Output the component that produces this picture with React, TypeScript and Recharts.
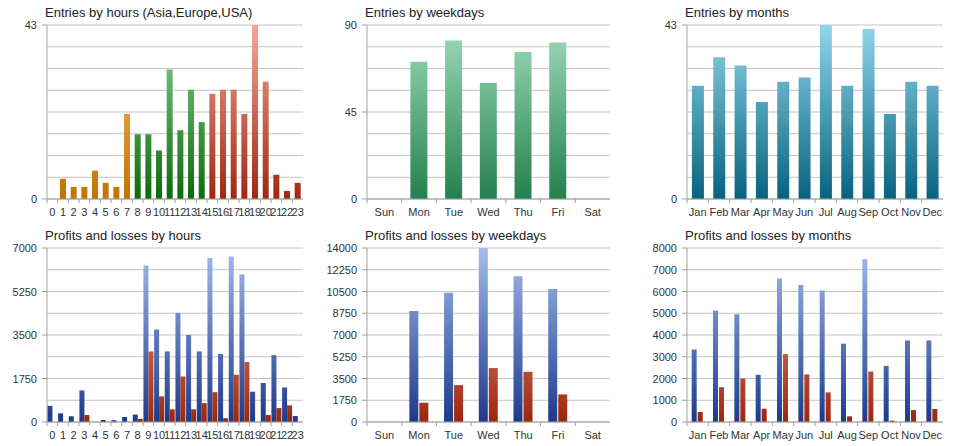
import React from 'react';
import { BarChart, Bar, XAxis, YAxis, CartesianGrid, Cell } from 'recharts';

const hours = ['0', '1', '2', '3', '4', '5', '6', '7', '8', '9', '10', '11', '12', '13', '14', '15', '16', '17', '18', '19', '20', '21', '22', '23'];
const hourSessions = [
  'asia', 'asia', 'asia', 'asia', 'asia', 'asia', 'asia', 'asia',
  'europe', 'europe', 'europe', 'europe', 'europe', 'europe', 'europe',
  'usa', 'usa', 'usa', 'usa', 'usa', 'usa', 'usa', 'usa', 'usa',
];
const hourEntries = [0, 5, 3, 3, 7, 4, 3, 21, 16, 16, 12, 32, 17, 27, 19, 26, 27, 27, 21, 43, 29, 6, 2, 4];
const hourProfits = [650, 350, 230, 1270, 0, 80, 70, 200, 300, 6300, 3720, 2840, 4390, 3500, 2840, 6600, 2740, 6660, 5930, 1220, 1570, 2690, 1390, 240];
const hourLosses = [0, 0, 0, 280, 0, 0, 0, 0, 120, 2840, 1030, 510, 1830, 510, 760, 1200, 150, 1900, 2410, 0, 280, 560, 670, 0];

const weekdays = ['Sun', 'Mon', 'Tue', 'Wed', 'Thu', 'Fri', 'Sat'];
const weekdayEntries = [0, 71, 82, 60, 76, 81, 0];
const weekdayProfits = [0, 8940, 10390, 14000, 11730, 10710, 0];
const weekdayLosses = [0, 1550, 2970, 4340, 4040, 2220, 0];

const months = ['Jan', 'Feb', 'Mar', 'Apr', 'May', 'Jun', 'Jul', 'Aug', 'Sep', 'Oct', 'Nov', 'Dec'];
const monthEntries = [28, 35, 33, 24, 29, 30, 43, 28, 42, 21, 29, 28];
const monthProfits = [3330, 5120, 4950, 2170, 6600, 6300, 6050, 3600, 7480, 2580, 3750, 3750];
const monthLosses = [460, 1600, 2000, 610, 3120, 2190, 1360, 260, 2320, 60, 550, 600];

const hourEntryLabels = [0, 43];
const weekdayEntryLabels = [0, 45, 90];
const monthEntryLabels = [0, 43];
const hourProfitLabels = [0, 1750, 3500, 5250, 7000];
const weekdayProfitLabels = [0, 1750, 3500, 5250, 7000, 8750, 10500, 12250, 14000];
const monthProfitLabels = [0, 1000, 2000, 3000, 4000, 5000, 6000, 7000, 8000];

const FONT = '"Liberation Sans", Arial, sans-serif';
const W = 320;
const H = 223;
const TOP = 25;
const BOTTOM = 199;
const AXIS_W = 47;

const steps = (max: number, n: number) => Array.from({ length: n + 1 }, (_, i) => (max * i) / n);

interface Grad {
  id: string;
  top: string;
  bottom: string;
}

interface PanelProps {
  left: number;
  top: number;
  title: string;
  rows: Record<string, any>[];
  max: number;
  divisions: number;
  labels: number[];
  right: number;
  gap: string;
  barGap?: number;
  grads: Grad[];
  keys: { key: string; fill: string }[];
  cellFill?: (row: Record<string, any>) => string;
}

function YTick(props: any) {
  const { x, y, payload, labels } = props;
  if (!labels.includes(payload.value)) return <g />;
  return (
    <g>
      <line x1={x + 5} x2={x + 10} y1={y} y2={y} stroke="#a0a0a0" />
      <text x={x} y={y} dy={4} textAnchor="end" fontSize={11} fontFamily={FONT} fill="#333">
        {payload.value}
      </text>
    </g>
  );
}

function XTick(props: any) {
  const { x, y, payload, band } = props;
  return (
    <g>
      <line x1={x - band / 2} x2={x - band / 2} y1={BOTTOM} y2={BOTTOM + 4} stroke="#a0a0a0" />
      <text x={x} y={y} dy="0.71em" textAnchor="middle" fontSize={11} fontFamily={FONT} fill="#333">
        {payload.value}
      </text>
    </g>
  );
}

function Panel({ left, top, title, rows, max, divisions, labels, right, gap, barGap = 0, grads, keys, cellFill }: PanelProps) {
  const band = (W - AXIS_W - right) / rows.length;
  return (
    <div style={{ position: 'absolute', left, top, width: W, height: H }}>
      <BarChart
        width={W}
        height={H}
        data={rows}
        margin={{ top: TOP, right, bottom: 4, left: 0 }}
        barCategoryGap={gap}
        barGap={barGap}
      >
        <defs>
          {grads.map(g => (
            <linearGradient key={g.id} id={g.id} gradientUnits="userSpaceOnUse" x1={0} y1={TOP} x2={0} y2={BOTTOM}>
              <stop offset="0%" stopColor={g.top} />
              <stop offset="100%" stopColor={g.bottom} />
            </linearGradient>
          ))}
        </defs>
        <CartesianGrid vertical={false} stroke="#c4c4c4" />
        <XAxis
          dataKey="name"
          height={20}
          interval={0}
          tickLine={false}
          tickSize={4}
          tickMargin={5}
          axisLine={{ stroke: '#a0a0a0' }}
          tick={(p: any) => <XTick {...p} band={band} />}
        />
        <YAxis
          width={AXIS_W}
          type="number"
          domain={[0, max]}
          ticks={steps(max, divisions)}
          interval={0}
          tickLine={false}
          tickSize={5}
          tickMargin={5}
          axisLine={{ stroke: '#a0a0a0' }}
          tick={(p: any) => <YTick {...p} labels={labels} />}
        />
        {keys.map(k => (
          <Bar key={k.key} dataKey={k.key} fill={k.fill} isAnimationActive={false}>
            {cellFill && rows.map((r, i) => <Cell key={i} fill={cellFill(r)} />)}
          </Bar>
        ))}
      </BarChart>
      <div
        style={{
          position: 'absolute',
          left: 45,
          top: 5,
          fontFamily: FONT,
          fontSize: 13,
          lineHeight: '15px',
          color: '#222',
          whiteSpace: 'nowrap',
        }}
      >
        {title}
      </div>
    </div>
  );
}

const sessionGrad: Record<string, string> = {
  asia: 'url(#gAsia)',
  europe: 'url(#gEurope)',
  usa: 'url(#gUsa)',
};

export default function App() {
  const hourEntryRows = hours.map((h, i) => ({ name: h, v: hourEntries[i], session: hourSessions[i] }));
  const weekdayEntryRows = weekdays.map((d, i) => ({ name: d, v: weekdayEntries[i] }));
  const monthEntryRows = months.map((m, i) => ({ name: m, v: monthEntries[i] }));
  const hourPlRows = hours.map((h, i) => ({ name: h, p: hourProfits[i], l: hourLosses[i] }));
  const weekdayPlRows = weekdays.map((d, i) => ({ name: d, p: weekdayProfits[i], l: weekdayLosses[i] }));
  const monthPlRows = months.map((m, i) => ({ name: m, p: monthProfits[i], l: monthLosses[i] }));

  return (
    <div style={{ position: 'absolute', left: 0, top: 0, width: 960, height: 446, background: '#fff', overflow: 'hidden' }}>
      <Panel
        left={0}
        top={0}
        title="Entries by hours (Asia,Europe,USA)"
        rows={hourEntryRows}
        max={43}
        divisions={8}
        labels={hourEntryLabels}
        right={17}
        gap="22%"
        grads={[
          { id: 'gAsia', top: '#f4c47a', bottom: '#c07400' },
          { id: 'gEurope', top: '#92d492', bottom: '#0a6c0a' },
          { id: 'gUsa', top: '#f4a898', bottom: '#a02810' },
        ]}
        keys={[{ key: 'v', fill: 'url(#gUsa)' }]}
        cellFill={r => sessionGrad[r.session]}
      />
      <Panel
        left={320}
        top={0}
        title="Entries by weekdays"
        rows={weekdayEntryRows}
        max={90}
        divisions={8}
        labels={weekdayEntryLabels}
        right={30}
        gap="25%"
        grads={[{ id: 'gWeek', top: '#9edcba', bottom: '#24804e' }]}
        keys={[{ key: 'v', fill: 'url(#gWeek)' }]}
      />
      <Panel
        left={640}
        top={0}
        title="Entries by months"
        rows={monthEntryRows}
        max={43}
        divisions={8}
        labels={monthEntryLabels}
        right={17}
        gap="23%"
        grads={[{ id: 'gMonth', top: '#90d6ec', bottom: '#08627e' }]}
        keys={[{ key: 'v', fill: 'url(#gMonth)' }]}
      />
      <Panel
        left={0}
        top={223}
        title="Profits and losses by hours"
        rows={hourPlRows}
        max={7000}
        divisions={8}
        labels={hourProfitLabels}
        right={17}
        gap="4%"
        barGap={0}
        grads={[
          { id: 'gBlueH', top: '#a4bcec', bottom: '#1c3a8a' },
          { id: 'gRedH', top: '#f4a890', bottom: '#9c2610' },
        ]}
        keys={[
          { key: 'p', fill: 'url(#gBlueH)' },
          { key: 'l', fill: 'url(#gRedH)' },
        ]}
      />
      <Panel
        left={320}
        top={223}
        title="Profits and losses by weekdays"
        rows={weekdayPlRows}
        max={14000}
        divisions={8}
        labels={weekdayProfitLabels}
        right={30}
        gap="22%"
        barGap={1}
        grads={[
          { id: 'gBlueW', top: '#a4bcec', bottom: '#1c3a8a' },
          { id: 'gRedW', top: '#f4a890', bottom: '#9c2610' },
        ]}
        keys={[
          { key: 'p', fill: 'url(#gBlueW)' },
          { key: 'l', fill: 'url(#gRedW)' },
        ]}
      />
      <Panel
        left={640}
        top={223}
        title="Profits and losses by months"
        rows={monthPlRows}
        max={8000}
        divisions={8}
        labels={monthProfitLabels}
        right={17}
        gap="22%"
        barGap={1}
        grads={[
          { id: 'gBlueM', top: '#a4bcec', bottom: '#1c3a8a' },
          { id: 'gRedM', top: '#f4a890', bottom: '#9c2610' },
        ]}
        keys={[
          { key: 'p', fill: 'url(#gBlueM)' },
          { key: 'l', fill: 'url(#gRedM)' },
        ]}
      />
    </div>
  );
}
